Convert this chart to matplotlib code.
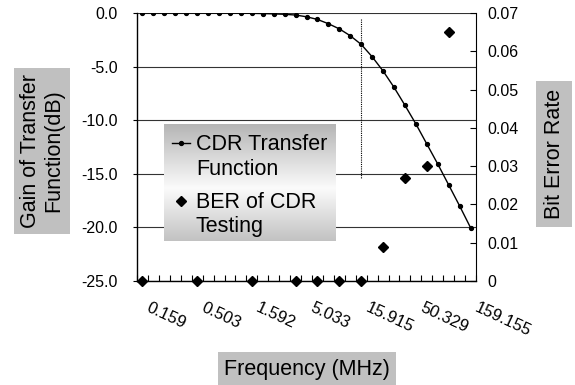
import numpy as np
import matplotlib.pyplot as plt
from matplotlib.lines import Line2D

plt.rcParams['font.family'] = ['Liberation Sans', 'DejaVu Sans']
plt.rcParams['axes.unicode_minus'] = False

# 31 frequency categories, one every 1/10 decade, labelled every 5th
n_cats = 31
label_cats = [0, 5, 10, 15, 20, 25, 30]
freq_labels = ['0.159', '0.503', '1.592', '5.033', '15.915', '50.329', '159.155']

# CDR transfer function (dB), one value per category
gain_db = [0.00, 0.00, 0.00, 0.00, 0.00, 0.00, -0.01, -0.01, -0.01, -0.02,
           -0.03, -0.05, -0.08, -0.12, -0.19, -0.35, -0.60, -1.00, -1.48, -2.12,
           -2.93, -4.08, -5.41, -6.93, -8.61, -10.35, -12.22, -14.09, -16.04, -18.00,
           -20.03]

# BER measurements
ber_cats = [0, 5, 10, 14, 16, 18, 20, 22, 24, 26, 28]
ber = [0, 0, 0, 0, 0, 0, 0, 0.009, 0.027, 0.030, 0.065]

# dotted marker line
marker_cat = 20
marker_span = (-0.6, -15.4)

gain_ticks = [0, -5, -10, -15, -20, -25]
ber_ticks = [0, 0.01, 0.02, 0.03, 0.04, 0.05, 0.06, 0.07]
ber_tick_labels = ['0', '0.01', '0.02', '0.03', '0.04', '0.05', '0.06', '0.07']

legend_labels = ['CDR Transfer\nFunction', 'BER of CDR\nTesting']

fig = plt.figure(figsize=(5.75, 3.85), dpi=100)
ax = fig.add_axes([0.2383, 0.2701, 0.5896, 0.6961])

ax.set_xlim(-0.5, n_cats - 0.5)
ax.set_ylim(-25, 0)
ax.set_yticks(gain_ticks, [f'{v:.1f}' for v in gain_ticks])
ax.yaxis.grid(True, color='#333333', lw=0.8)
ax.set_axisbelow(True)
ax.spines['top'].set_visible(False)
ax.spines['right'].set_visible(False)
for s in ['left', 'bottom']:
    ax.spines[s].set_linewidth(1.0)
ax.tick_params(axis='y', direction='out', length=3, pad=11, labelsize=11.5)
ax.set_xticks(np.arange(-0.5, n_cats, 1))
ax.tick_params(axis='x', direction='in', length=4, labelbottom=False)

ax.plot(range(n_cats), gain_db, color='black', lw=1.0, marker='o', ms=2.8)
ax.plot([marker_cat, marker_cat], marker_span, color='black', lw=0.8, ls=(0, (1, 1)))

for c, lab in zip(label_cats, freq_labels):
    ax.annotate(lab, xy=(c, 0), xycoords=('data', 'axes fraction'),
                xytext=(6, -14), textcoords='offset points', rotation=-25,
                ha='left', va='top', rotation_mode='anchor', fontsize=12)

ax2 = ax.twinx()
ax2.set_ylim(0, 0.07)
ax2.set_yticks(ber_ticks, ber_tick_labels)
ax2.tick_params(axis='y', direction='in', length=4, pad=8, labelsize=11.5)
for s in ['top', 'left', 'bottom']:
    ax2.spines[s].set_visible(False)
ax2.plot(ber_cats, ber, ls='none', marker='D', ms=5.5, color='black', clip_on=False, zorder=5)

# axis titles with grey boxes
box = dict(boxstyle='square,pad=0.3', facecolor='#c0c0c0', edgecolor='none')
fig.text(42 / 575, 1 - 151 / 385, 'Gain of Transfer\nFunction(dB)', rotation=90,
         ha='center', va='center', multialignment='center', fontsize=15.5,
         linespacing=1.1, bbox=box)
fig.text(554 / 575, 1 - 154 / 385, 'Bit Error Rate', rotation=90,
         ha='center', va='center', fontsize=15.5,
         bbox=dict(boxstyle='square,pad=0.35', facecolor='#c0c0c0', edgecolor='none'))
fig.text(307 / 575, 1 - 369 / 385, 'Frequency (MHz)',
         ha='center', va='center', fontsize=15.5, bbox=box)

# legend with gradient fill
lax = fig.add_axes([164 / 575, 1 - 241 / 385, 172 / 575, 117 / 385], zorder=5)
lax.set_xlim(0, 1)
lax.set_ylim(0, 1)
lax.axis('off')
t = np.linspace(0, 1, 200)
shade = np.interp(t, [0, 0.45, 1], [0.76, 0.985, 0.71])
grad = np.repeat(shade[:, None, None], 3, axis=2)
lax.imshow(grad, extent=(0, 1, 1, 0), aspect='auto', zorder=0)
lax.add_line(Line2D([0.0465, 0.151], [0.838, 0.838], color='black', lw=1.0))
lax.plot([0.098], [0.838], marker='o', ms=2.8, color='black')
lax.plot([0.098], [0.342], marker='D', ms=5.5, color='black')
line_y = [[0.780, 0.567], [0.282, 0.074]]
for lab, ys in zip(legend_labels, line_y):
    for part, y in zip(lab.split('\n'), ys):
        lax.text(0.186, y, part, fontsize=15.5, va='baseline', ha='left')

fig.savefig('out.png', dpi=100)
